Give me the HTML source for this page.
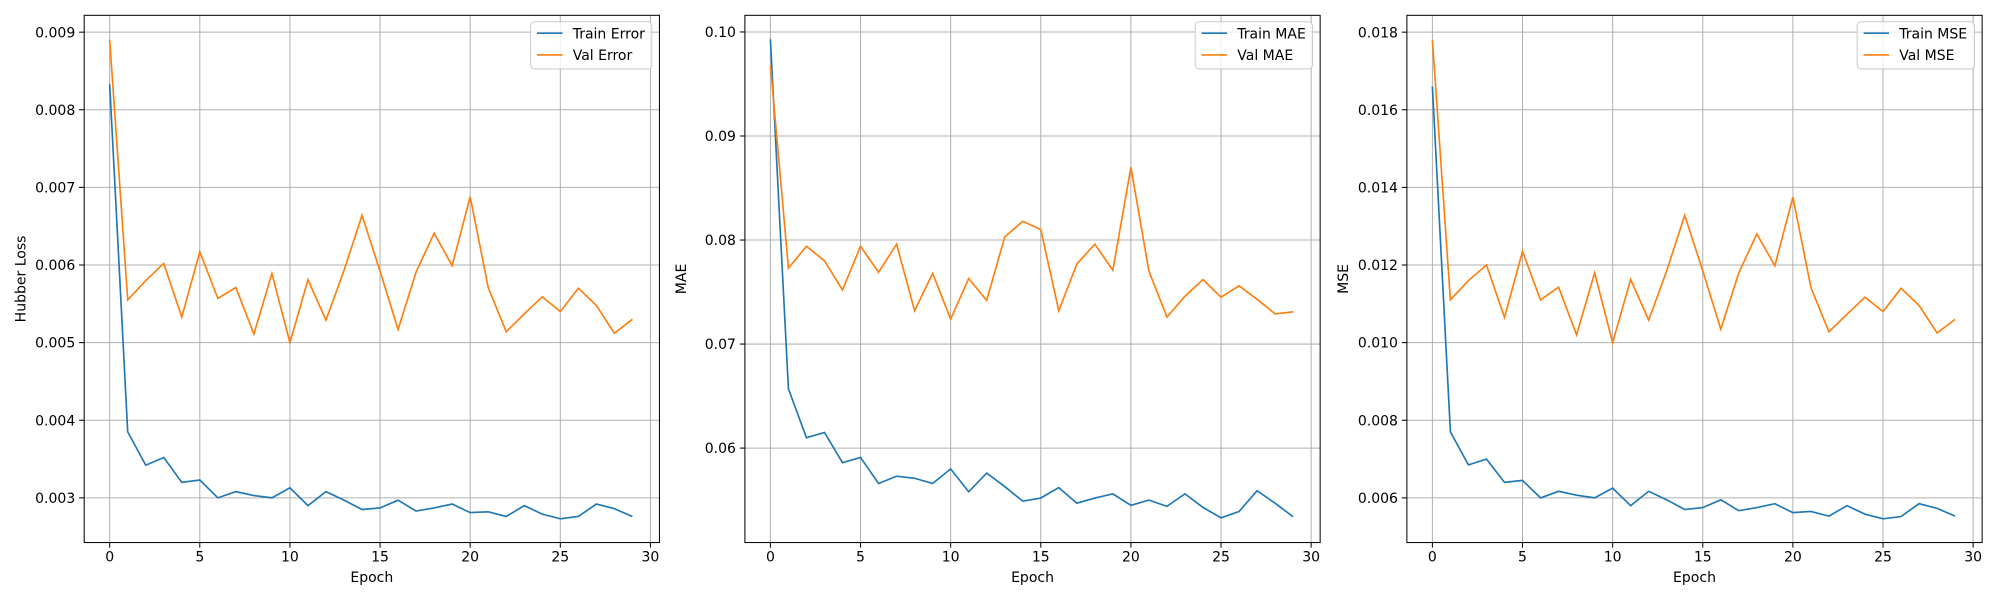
<!DOCTYPE html>
<html><head><meta charset="utf-8"><style>
body{margin:0;background:#fff;width:2000px;height:600px;overflow:hidden}
svg text{font-family:"DejaVu Sans","Liberation Sans",sans-serif;font-size:11px;fill:#000}
</style></head><body>
<svg id="chart" width="2000" height="600" viewBox="0 0 1568 470" preserveAspectRatio="none" xmlns="http://www.w3.org/2000/svg"></svg>
<script>
const epochs = Array.from({length:30},(_,i)=>i);
const trainError = [0.00833,0.00385,0.00342,0.00352,0.0032,0.00323,0.003,0.00308,0.00303,0.003,0.00313,0.0029,0.00308,0.00297,0.00285,0.00287,0.00297,0.00283,0.00287,0.00292,0.00281,0.00282,0.00276,0.0029,0.00279,0.00273,0.00276,0.00292,0.00286,0.00276];
const valError = [0.0089,0.00555,0.0058,0.00602,0.00533,0.00617,0.00557,0.00571,0.00511,0.00589,0.005,0.00581,0.00529,0.00593,0.00664,0.00592,0.00517,0.00591,0.00641,0.00599,0.00688,0.00571,0.00514,0.00537,0.00559,0.0054,0.0057,0.00548,0.00512,0.0053];
const trainMAE = [0.0993,0.0657,0.061,0.0615,0.0586,0.0591,0.0566,0.0573,0.0571,0.0566,0.058,0.0558,0.0576,0.0563,0.0549,0.0552,0.0562,0.0547,0.0552,0.0556,0.0545,0.055,0.0544,0.0556,0.0543,0.0533,0.0539,0.0559,0.0547,0.0534];
const valMAE = [0.0968,0.0773,0.0794,0.078,0.0752,0.0794,0.0769,0.0796,0.0732,0.0768,0.0724,0.0763,0.0742,0.0803,0.0818,0.081,0.0732,0.0777,0.0796,0.0771,0.087,0.077,0.0726,0.0746,0.0762,0.0745,0.0756,0.0743,0.0729,0.0731];
const trainMSE = [0.0166,0.0077,0.00685,0.007,0.0064,0.00645,0.006,0.00617,0.00607,0.006,0.00625,0.0058,0.00617,0.00595,0.0057,0.00575,0.00595,0.00567,0.00575,0.00585,0.00562,0.00565,0.00553,0.0058,0.00558,0.00546,0.00552,0.00585,0.00573,0.00553];
const valMSE = [0.0178,0.0111,0.0116,0.012,0.01065,0.01235,0.0111,0.01143,0.0102,0.0118,0.01,0.01163,0.01058,0.01185,0.01328,0.01185,0.01035,0.0118,0.0128,0.01198,0.01375,0.01142,0.01028,0.01073,0.01117,0.0108,0.0114,0.01096,0.01025,0.0106];
const xTicks = [0,5,10,15,20,25,30];
const yTicks1 = [0.003,0.004,0.005,0.006,0.007,0.008,0.009];
const yTicks2 = [0.06,0.07,0.08,0.09,0.10];
const yTicks3 = [0.006,0.008,0.010,0.012,0.014,0.016,0.018];

const NS="http://www.w3.org/2000/svg";
const svg=document.getElementById('chart');
function mk(tag,attrs,parent){const e=document.createElementNS(NS,tag);for(const k in attrs)e.setAttribute(k,attrs[k]);(parent||svg).appendChild(e);return e;}

function panel(p){
  const L=p.left,R=p.left+451,T=12,B=425;
  const sx=v=>L+(v-(-1.415))/(30.5-(-1.415))*(R-L);
  const sy=v=>B-(v-p.ymin)/(p.ymax-p.ymin)*(B-T);
  const g=mk('g',{});
  
  
  xTicks.forEach(t=>{
    const x=sx(t);
    const gl=mk('line',{x1:x,x2:x,y1:T,y2:B,stroke:'#b0b0b0','stroke-width':0.8},g);
    
    mk('line',{x1:x,x2:x,y1:B,y2:B+4,stroke:'#000','stroke-width':0.8},g);
    const tx=mk('text',{x:x,y:B+15,'text-anchor':'middle'},g);tx.textContent=t;
    
  });
  p.yTicks.forEach(t=>{
    const y=sy(t);
    const gl=mk('line',{x1:L,x2:R,y1:y,y2:y,stroke:'#b0b0b0','stroke-width':0.8},g);
    
    mk('line',{x1:L-4,x2:L,y1:y,y2:y,stroke:'#000','stroke-width':0.8},g);
    const tx=mk('text',{x:L-7,y:y+4,'text-anchor':'end'},g);tx.textContent=t.toFixed(p.dec);
    
  });
  const series=[[p.train,'#1f77b4'],[p.val,'#ff7f0e']];
  series.forEach(([d,c],i)=>{
    const pts=d.map((v,j)=>sx(epochs[j])+','+sy(v)).join(' ');
    const pl=mk('polyline',{points:pts,fill:'none',stroke:c,'stroke-width':1.3},g);
    
    
  });
  mk('rect',{x:L,y:T,width:R-L,height:B-T,fill:'none',stroke:'#000','stroke-width':0.8},g);
  const xl=mk('text',{x:(L+R)/2,y:456,'text-anchor':'middle'},g);xl.textContent='Epoch';
  
  const yl=mk('text',{x:0,y:0,'text-anchor':'middle',transform:`translate(${p.left-46},${(T+B)/2}) rotate(-90)`},g);yl.textContent=p.ylabel;
  
  const lg=mk('g',{},g);
  
  const lw=p.legendW;
  mk('rect',{x:R-6-lw,y:17,width:lw,height:37,rx:3,fill:'#fff','fill-opacity':0.8,stroke:'#ccc','stroke-width':0.8},lg);
  p.labels.forEach((lab,i)=>{
    const y=26+i*17;
    mk('line',{x1:R-lw-1,x2:R-lw+19,y1:y,y2:y,stroke:i?'#ff7f0e':'#1f77b4','stroke-width':1.3},lg);
    const t=mk('text',{x:R-lw+27,y:y+4},lg);t.textContent=lab;
    
  });
}
panel({name:'error',left:66,ymin:0.002424,ymax:0.009217,yTicks:yTicks1,dec:3,train:trainError,val:valError,ylabel:'Hubber Loss',labels:['Train Error','Val Error'],legendW:95});
panel({name:'mae',left:584,ymin:0.05092,ymax:0.1016,yTicks:yTicks2,dec:2,train:trainMAE,val:valMAE,ylabel:'MAE',labels:['Train MAE','Val MAE'],legendW:92});
panel({name:'mse',left:1103,ymin:0.004849,ymax:0.018434,yTicks:yTicks3,dec:3,train:trainMSE,val:valMSE,ylabel:'MSE',labels:['Train MSE','Val MSE'],legendW:92});
</script>
</body></html>
